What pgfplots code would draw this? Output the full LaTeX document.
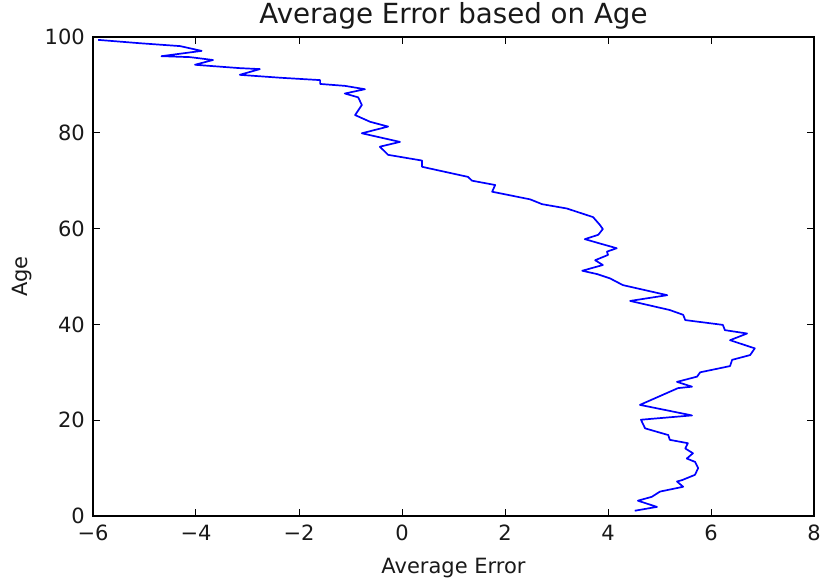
\documentclass[border=0pt]{standalone}
\usepackage{pgfplots}
\pgfplotsset{compat=1.18}
\usepackage{fontspec}
\setmainfont{DejaVu Sans}
\begin{document}
\begin{tikzpicture}
\useasboundingbox (-93pt,-66pt) rectangle (730pt,516pt);
\begin{axis}[
  at={(0pt,0pt)}, anchor=south west,
  scale only axis, width=721pt, height=479pt,
  xmin=-6, xmax=8, ymin=0, ymax=100,
  xtick={-6,-4,...,8},
  xticklabels={−6,−4,−2,0,2,4,6,8},
  ytick={0,20,...,100},
  /pgf/number format/assume math mode=true,
  tick align=inside,
  major tick length=7pt,
  tick style={black, line width=1pt},
  axis line style={black, line width=1.4pt},
  ticklabel style={font=\fontsize{21}{25}\selectfont, text=black!90},
  xticklabel style={anchor=base, inner sep=0pt, yshift=-24pt},
  yticklabel style={anchor=east, inner sep=0pt, xshift=-8pt},
  title={Average Error based on Age},
  title style={font=\fontsize{27.7}{32}\selectfont, at={(axis description cs:0.5,1.002)}, anchor=base, inner sep=0pt, yshift=7pt, text=black!90},
  xlabel={Average Error},
  ylabel={Age},
  xlabel style={font=\fontsize{21}{25}\selectfont, at={(axis description cs:0.5,-0.1086)}, anchor=center, text=black!90},
  ylabel style={font=\fontsize{21}{25}\selectfont, at={(axis description cs:-0.0985,0.5)}, anchor=center, text=black!90},
]
\addplot[color={rgb,255:red,0;green,0;blue,255}, line width=1.7pt, line join=round, no markers] table {
x y
-5.90 99.4
-5.09 98.7
-4.31 98.1
-3.89 97.1
-4.67 96.0
-4.12 95.8
-3.67 95.2
-4.02 94.2
-3.15 93.5
-2.76 93.3
-3.15 92.1
-2.37 91.5
-1.59 91.0
-1.59 90.2
-1.11 89.8
-0.72 89.1
-1.11 88.2
-0.85 87.4
-0.78 85.8
-0.91 83.7
-0.62 82.3
-0.27 81.3
-0.78 79.9
-0.04 78.1
-0.43 77.1
-0.27 75.4
0.39 74.2
0.39 72.9
1.28 70.8
1.36 70.0
1.81 69.1
1.75 67.7
2.49 66.1
2.72 65.1
3.20 64.2
3.71 62.4
3.84 60.8
3.90 59.9
3.81 58.7
3.55 57.8
3.84 56.9
4.17 55.9
3.98 55.2
4.00 54.5
3.75 53.4
3.90 52.4
3.50 51.2
3.79 50.5
4.04 49.6
4.29 48.2
5.15 46.1
4.43 44.9
5.20 43.0
5.46 42.0
5.50 40.9
6.23 39.9
6.27 38.8
6.70 38.1
6.37 36.7
6.85 35.0
6.76 33.6
6.41 32.6
6.37 31.3
5.79 30.0
5.73 29.1
5.34 28.0
5.63 27.0
5.36 26.7
4.62 23.2
5.63 21.0
4.64 20.1
4.72 18.3
5.17 16.9
5.20 15.9
5.55 15.2
5.50 14.1
5.65 13.1
5.53 12.0
5.69 11.3
5.75 10.0
5.69 8.6
5.44 7.5
5.34 7.2
5.46 6.1
5.01 5.1
4.85 4.0
4.58 3.2
4.95 1.9
4.52 1.1
};
\end{axis}
\end{tikzpicture}
\end{document}
